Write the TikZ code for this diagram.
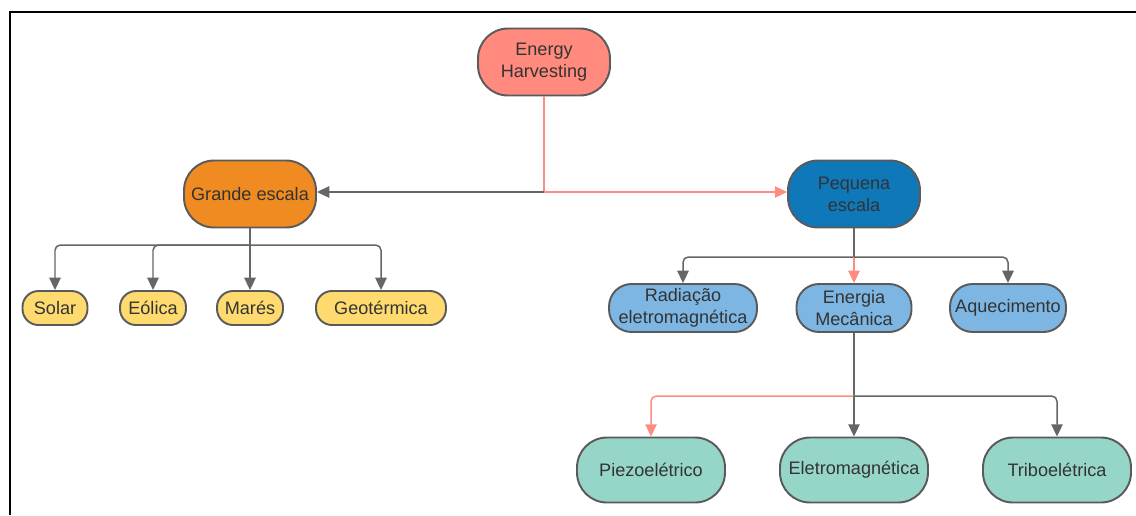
\documentclass[tikz,border=0pt]{standalone}
\usepackage{fontspec}
\setmainfont{Liberation Sans}
\usetikzlibrary{arrows.meta,calc,positioning}
\definecolor{cSalmon}{HTML}{FF8A7D}
\definecolor{cOrange}{HTML}{EF8B20}
\definecolor{cBlue}{HTML}{0E78B9}
\definecolor{cLight}{HTML}{7DB6E3}
\definecolor{cYellow}{HTML}{FFDA6E}
\definecolor{cTeal}{HTML}{96D6C9}
\definecolor{cEdge}{HTML}{5A5A5A}
\definecolor{cLine}{HTML}{666666}
\definecolor{cPink}{HTML}{FF8C80}
\definecolor{cText}{HTML}{333333}

\begin{document}
\begin{tikzpicture}[x=0.02cm, y=-0.02cm,
    box/.style={draw=cEdge, line width=1.1pt, align=center, text=cText, font=\fontsize{10.3}{12.5}\selectfont, inner sep=0pt},
    big/.style={box, minimum width=2.64cm, minimum height=1.34cm, rounded corners=0.6cm},
    mid/.style={box, minimum height=0.96cm, rounded corners=0.45cm},
    small/.style={box, fill=cYellow, minimum height=0.68cm, rounded corners=0.32cm},
    low/.style={box, fill=cTeal, minimum width=2.96cm, minimum height=1.3cm, rounded corners=0.6cm},
    grayln/.style={draw=cLine, line width=0.85pt, rounded corners=3pt, -{Triangle[width=6.5pt,length=7pt]}},
    pinkln/.style={draw=cPink, line width=0.85pt, rounded corners=3pt, -{Triangle[width=6.5pt,length=7pt]}}]
  \useasboundingbox (0,0) rectangle (1136,515);
  % moldura
  \draw[line width=1.2pt] (10,515) -- (10,12) -- (1136,12);

  % nivel 1 e 2
  \node[big, fill=cSalmon] (eh) at (544,62) {Energy\\Harvesting};
  \node[big, fill=cOrange] (ge) at (250,194) {Grande escala};
  \node[big, fill=cBlue] (pe) at (854,194) {Pequena\\escala};

  % grande escala
  \node[small, minimum width=1.3cm] (solar) at (55,308) {Solar};
  \node[small, minimum width=1.32cm] (eolica) at (153,308) {Eólica};
  \node[small, minimum width=1.32cm] (mares) at (250,308) {Marés};
  \node[small, minimum width=2.6cm] (geo) at (381,308) {Geotérmica};

  % pequena escala
  \node[mid, fill=cLight, minimum width=2.96cm] (rad) at (683,308) {Radiação\\eletromagnética};
  \node[mid, fill=cLight, minimum width=2.3cm] (mec) at (854,308) {Energia\\Mecânica};
  \node[mid, fill=cLight, minimum width=2.32cm] (aq) at (1008,308) {Aquecimento};

  % energia mecanica
  \node[low] (piezo) at (651,470) {Piezoelétrico};
  \node[low] (eletro) at (854,470) {Eletromagnética};
  \node[low] (tribo) at (1057,470) {Triboelétrica};

  \coordinate (hsplit) at (544,192);
  \coordinate (gsplit) at (250,245);
  \coordinate (psplit) at (854,257);
  \coordinate (msplit) at (854,396);

  % ligacoes
  \draw[pinkln, -] (eh.south) -- (hsplit);
  \draw[grayln] (hsplit) -- (hsplit -| ge.east);
  \draw[pinkln] (hsplit) -- (hsplit -| pe.west);

  \draw[grayln, -] (ge.south) -- (gsplit);
  \foreach \n in {solar,eolica,mares,geo}
    \draw[grayln] (gsplit) -| (\n.north);

  \draw[grayln, -] (pe.south) -- (psplit);
  \draw[grayln] (psplit) -| (rad.north);
  \draw[pinkln] (psplit) -- (mec.north);
  \draw[grayln] (psplit) -| (aq.north);

  \draw[grayln, -] (mec.south) -- (msplit);
  \draw[pinkln] (msplit) -| (piezo.north);
  \draw[grayln] (msplit) -- (eletro.north);
  \draw[grayln] (msplit) -| (tribo.north);
\end{tikzpicture}
\end{document}
